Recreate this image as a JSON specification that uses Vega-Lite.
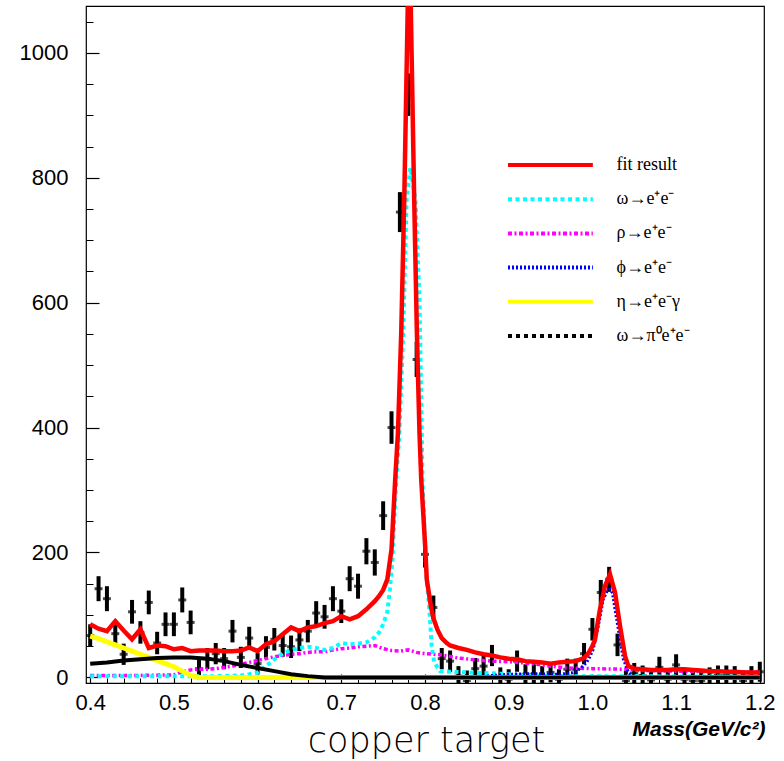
{
  "$schema": "https://vega.github.io/schema/vega-lite/v6.json",
  "width": 678,
  "height": 677,
  "autosize": {"type": "none"},
  "padding": {"left": 86, "top": 6, "right": 20, "bottom": 78},
  "background": "white",
  "config": {
    "view": {"stroke": "black", "strokeWidth": 1.2},
    "axis": {"grid": false, "domain": false, "labelFont": "Liberation Sans", "labelColor": "black", "tickColor": "black", "labelFlush": false, "labelOverlap": false, "labelBound": false}
  },
  "datasets": {
    "pts": [
      {"m":0.40,"n":67,"err":18},{"m":0.41,"n":142,"err":20},{"m":0.42,"n":126,"err":20},{"m":0.43,"n":70,"err":18},{"m":0.44,"n":37,"err":17},
      {"m":0.45,"n":105,"err":19},{"m":0.46,"n":72,"err":18},{"m":0.47,"n":120,"err":19},{"m":0.48,"n":55,"err":18},{"m":0.49,"n":85,"err":19},
      {"m":0.50,"n":85,"err":19},{"m":0.51,"n":124,"err":20},{"m":0.52,"n":88,"err":19},{"m":0.53,"n":14,"err":17},{"m":0.54,"n":30,"err":17},
      {"m":0.55,"n":38,"err":17},{"m":0.56,"n":30,"err":17},{"m":0.57,"n":74,"err":18},{"m":0.58,"n":32,"err":17},{"m":0.59,"n":63,"err":18},
      {"m":0.60,"n":22,"err":17},{"m":0.61,"n":48,"err":18},{"m":0.62,"n":61,"err":18},{"m":0.63,"n":51,"err":18},{"m":0.64,"n":49,"err":18},
      {"m":0.65,"n":60,"err":18},{"m":0.66,"n":74,"err":18},{"m":0.67,"n":103,"err":19},{"m":0.68,"n":97,"err":19},{"m":0.69,"n":126,"err":20},
      {"m":0.70,"n":106,"err":19},{"m":0.71,"n":158,"err":20},{"m":0.72,"n":146,"err":20},{"m":0.73,"n":202,"err":21},{"m":0.74,"n":184,"err":21},
      {"m":0.75,"n":259,"err":23},{"m":0.76,"n":400,"err":26},{"m":0.77,"n":745,"err":32},{"m":0.78,"n":933,"err":34},{"m":0.79,"n":509,"err":28},
      {"m":0.80,"n":197,"err":21},{"m":0.81,"n":112,"err":19},{"m":0.82,"n":30,"err":17},{"m":0.83,"n":26,"err":17},{"m":0.84,"n":2,"err":16},
      {"m":0.85,"n":-5,"err":16},{"m":0.86,"n":14,"err":17},{"m":0.87,"n":18,"err":17},{"m":0.88,"n":35,"err":17},{"m":0.89,"n":0,"err":16},
      {"m":0.90,"n":-3,"err":16},{"m":0.91,"n":26,"err":17},{"m":0.92,"n":5,"err":16},{"m":0.93,"n":5,"err":16},{"m":0.94,"n":2,"err":16},
      {"m":0.95,"n":8,"err":16},{"m":0.96,"n":-3,"err":16},{"m":0.97,"n":13,"err":17},{"m":0.98,"n":13,"err":17},{"m":0.99,"n":38,"err":17},
      {"m":1.00,"n":77,"err":18},{"m":1.01,"n":136,"err":20},{"m":1.02,"n":157,"err":20},{"m":1.03,"n":52,"err":18},{"m":1.04,"n":-5,"err":16},
      {"m":1.05,"n":7,"err":16},{"m":1.06,"n":3,"err":16},{"m":1.07,"n":-4,"err":16},{"m":1.08,"n":16,"err":17},{"m":1.09,"n":-3,"err":16},
      {"m":1.10,"n":20,"err":17},{"m":1.11,"n":-3,"err":16},{"m":1.12,"n":-5,"err":16},{"m":1.13,"n":-5,"err":16},{"m":1.14,"n":0,"err":16},
      {"m":1.15,"n":3,"err":16},{"m":1.16,"n":3,"err":16},{"m":1.17,"n":2,"err":16},{"m":1.18,"n":-5,"err":16},{"m":1.19,"n":2,"err":16},
      {"m":1.20,"n":9,"err":16}
    ],
    "curves": [
      {"series":"fit result","m":0.40,"v":85},{"series":"fit result","m":0.41,"v":78},{"series":"fit result","m":0.42,"v":74},{"series":"fit result","m":0.43,"v":90},
      {"series":"fit result","m":0.44,"v":75},{"series":"fit result","m":0.45,"v":61},{"series":"fit result","m":0.46,"v":77},{"series":"fit result","m":0.47,"v":47},
      {"series":"fit result","m":0.48,"v":51},{"series":"fit result","m":0.49,"v":50},{"series":"fit result","m":0.50,"v":45},{"series":"fit result","m":0.51,"v":47},
      {"series":"fit result","m":0.52,"v":42},{"series":"fit result","m":0.53,"v":43},{"series":"fit result","m":0.54,"v":43},{"series":"fit result","m":0.55,"v":43},
      {"series":"fit result","m":0.56,"v":42},{"series":"fit result","m":0.57,"v":42},{"series":"fit result","m":0.58,"v":43},{"series":"fit result","m":0.59,"v":48},
      {"series":"fit result","m":0.60,"v":42},{"series":"fit result","m":0.61,"v":53},{"series":"fit result","m":0.62,"v":58},{"series":"fit result","m":0.63,"v":69},
      {"series":"fit result","m":0.64,"v":80},{"series":"fit result","m":0.65,"v":74},{"series":"fit result","m":0.66,"v":80},{"series":"fit result","m":0.67,"v":82},
      {"series":"fit result","m":0.68,"v":87},{"series":"fit result","m":0.69,"v":90},{"series":"fit result","m":0.70,"v":98},{"series":"fit result","m":0.71,"v":93},
      {"series":"fit result","m":0.72,"v":98},{"series":"fit result","m":0.73,"v":109},{"series":"fit result","m":0.74,"v":122},{"series":"fit result","m":0.745,"v":130},
      {"series":"fit result","m":0.75,"v":140},{"series":"fit result","m":0.755,"v":157},{"series":"fit result","m":0.76,"v":205},{"series":"fit result","m":0.7644,"v":317},
      {"series":"fit result","m":0.7677,"v":392},{"series":"fit result","m":0.7716,"v":552},{"series":"fit result","m":0.7752,"v":765},{"series":"fit result","m":0.7794,"v":1074},
      {"series":"fit result","m":0.7812,"v":1200},{"series":"fit result","m":0.783,"v":1074},{"series":"fit result","m":0.7871,"v":765},{"series":"fit result","m":0.7903,"v":552},
      {"series":"fit result","m":0.7934,"v":392},{"series":"fit result","m":0.7955,"v":317},{"series":"fit result","m":0.8002,"v":210},{"series":"fit result","m":0.8021,"v":157},
      {"series":"fit result","m":0.807,"v":114},{"series":"fit result","m":0.81,"v":95},{"series":"fit result","m":0.815,"v":76},{"series":"fit result","m":0.82,"v":63},
      {"series":"fit result","m":0.826,"v":55},{"series":"fit result","m":0.83,"v":51},{"series":"fit result","m":0.84,"v":47},{"series":"fit result","m":0.85,"v":44},
      {"series":"fit result","m":0.86,"v":40},{"series":"fit result","m":0.87,"v":37},{"series":"fit result","m":0.88,"v":35},{"series":"fit result","m":0.89,"v":32},
      {"series":"fit result","m":0.90,"v":30},{"series":"fit result","m":0.91,"v":29},{"series":"fit result","m":0.92,"v":26},{"series":"fit result","m":0.93,"v":25},
      {"series":"fit result","m":0.94,"v":24},{"series":"fit result","m":0.95,"v":22},{"series":"fit result","m":0.96,"v":24},{"series":"fit result","m":0.97,"v":25},
      {"series":"fit result","m":0.98,"v":26},{"series":"fit result","m":0.99,"v":31},{"series":"fit result","m":0.995,"v":38},{"series":"fit result","m":1.0,"v":50},
      {"series":"fit result","m":1.003,"v":60},{"series":"fit result","m":1.009,"v":109},{"series":"fit result","m":1.015,"v":146},{"series":"fit result","m":1.021,"v":165},
      {"series":"fit result","m":1.027,"v":136},{"series":"fit result","m":1.033,"v":82},{"series":"fit result","m":1.039,"v":34},{"series":"fit result","m":1.043,"v":18},
      {"series":"fit result","m":1.05,"v":14},{"series":"fit result","m":1.06,"v":13},{"series":"fit result","m":1.07,"v":12},{"series":"fit result","m":1.08,"v":12},
      {"series":"fit result","m":1.09,"v":12},{"series":"fit result","m":1.10,"v":13},{"series":"fit result","m":1.11,"v":13},{"series":"fit result","m":1.12,"v":12},
      {"series":"fit result","m":1.13,"v":11},{"series":"fit result","m":1.14,"v":10},{"series":"fit result","m":1.15,"v":10},{"series":"fit result","m":1.16,"v":9},
      {"series":"fit result","m":1.17,"v":9},{"series":"fit result","m":1.18,"v":8},{"series":"fit result","m":1.19,"v":8},{"series":"fit result","m":1.20,"v":8},

      {"series":"ω→e⁺e⁻","m":0.40,"v":2},{"series":"ω→e⁺e⁻","m":0.45,"v":2},{"series":"ω→e⁺e⁻","m":0.50,"v":2},{"series":"ω→e⁺e⁻","m":0.55,"v":2},
      {"series":"ω→e⁺e⁻","m":0.58,"v":3},{"series":"ω→e⁺e⁻","m":0.59,"v":5},{"series":"ω→e⁺e⁻","m":0.60,"v":8},{"series":"ω→e⁺e⁻","m":0.61,"v":18},
      {"series":"ω→e⁺e⁻","m":0.62,"v":29},{"series":"ω→e⁺e⁻","m":0.63,"v":38},{"series":"ω→e⁺e⁻","m":0.64,"v":44},{"series":"ω→e⁺e⁻","m":0.65,"v":47},
      {"series":"ω→e⁺e⁻","m":0.66,"v":49},{"series":"ω→e⁺e⁻","m":0.67,"v":47},{"series":"ω→e⁺e⁻","m":0.68,"v":44},{"series":"ω→e⁺e⁻","m":0.69,"v":47},
      {"series":"ω→e⁺e⁻","m":0.70,"v":55},{"series":"ω→e⁺e⁻","m":0.71,"v":53},{"series":"ω→e⁺e⁻","m":0.72,"v":54},{"series":"ω→e⁺e⁻","m":0.73,"v":56},
      {"series":"ω→e⁺e⁻","m":0.74,"v":64},{"series":"ω→e⁺e⁻","m":0.745,"v":72},{"series":"ω→e⁺e⁻","m":0.75,"v":85},{"series":"ω→e⁺e⁻","m":0.755,"v":105},
      {"series":"ω→e⁺e⁻","m":0.758,"v":140},{"series":"ω→e⁺e⁻","m":0.761,"v":185},{"series":"ω→e⁺e⁻","m":0.765,"v":300},{"series":"ω→e⁺e⁻","m":0.7694,"v":392},
      {"series":"ω→e⁺e⁻","m":0.774,"v":552},{"series":"ω→e⁺e⁻","m":0.778,"v":765},{"series":"ω→e⁺e⁻","m":0.7825,"v":816},{"series":"ω→e⁺e⁻","m":0.7886,"v":765},
      {"series":"ω→e⁺e⁻","m":0.7934,"v":605},{"series":"ω→e⁺e⁻","m":0.7955,"v":445},{"series":"ω→e⁺e⁻","m":0.797,"v":317},{"series":"ω→e⁺e⁻","m":0.80,"v":215},
      {"series":"ω→e⁺e⁻","m":0.802,"v":157},{"series":"ω→e⁺e⁻","m":0.805,"v":113},{"series":"ω→e⁺e⁻","m":0.808,"v":50},{"series":"ω→e⁺e⁻","m":0.811,"v":24},
      {"series":"ω→e⁺e⁻","m":0.818,"v":10},{"series":"ω→e⁺e⁻","m":0.83,"v":9},{"series":"ω→e⁺e⁻","m":0.85,"v":8},{"series":"ω→e⁺e⁻","m":0.87,"v":7},
      {"series":"ω→e⁺e⁻","m":0.89,"v":6},{"series":"ω→e⁺e⁻","m":0.90,"v":5},{"series":"ω→e⁺e⁻","m":0.92,"v":3},{"series":"ω→e⁺e⁻","m":0.95,"v":2},
      {"series":"ω→e⁺e⁻","m":1.0,"v":2},{"series":"ω→e⁺e⁻","m":1.2,"v":1},

      {"series":"ρ→e⁺e⁻","m":0.40,"v":3},{"series":"ρ→e⁺e⁻","m":0.45,"v":3},{"series":"ρ→e⁺e⁻","m":0.50,"v":4},{"series":"ρ→e⁺e⁻","m":0.51,"v":9},
      {"series":"ρ→e⁺e⁻","m":0.52,"v":12},{"series":"ρ→e⁺e⁻","m":0.53,"v":13},{"series":"ρ→e⁺e⁻","m":0.54,"v":13},{"series":"ρ→e⁺e⁻","m":0.55,"v":14},
      {"series":"ρ→e⁺e⁻","m":0.56,"v":16},{"series":"ρ→e⁺e⁻","m":0.57,"v":18},{"series":"ρ→e⁺e⁻","m":0.58,"v":21},{"series":"ρ→e⁺e⁻","m":0.59,"v":24},
      {"series":"ρ→e⁺e⁻","m":0.60,"v":27},{"series":"ρ→e⁺e⁻","m":0.61,"v":30},{"series":"ρ→e⁺e⁻","m":0.62,"v":33},{"series":"ρ→e⁺e⁻","m":0.63,"v":35},
      {"series":"ρ→e⁺e⁻","m":0.64,"v":37},{"series":"ρ→e⁺e⁻","m":0.65,"v":38},{"series":"ρ→e⁺e⁻","m":0.66,"v":40},{"series":"ρ→e⁺e⁻","m":0.67,"v":41},
      {"series":"ρ→e⁺e⁻","m":0.68,"v":41},{"series":"ρ→e⁺e⁻","m":0.69,"v":44},{"series":"ρ→e⁺e⁻","m":0.70,"v":46},{"series":"ρ→e⁺e⁻","m":0.71,"v":47},
      {"series":"ρ→e⁺e⁻","m":0.72,"v":49},{"series":"ρ→e⁺e⁻","m":0.73,"v":50},{"series":"ρ→e⁺e⁻","m":0.74,"v":51},{"series":"ρ→e⁺e⁻","m":0.75,"v":46},
      {"series":"ρ→e⁺e⁻","m":0.76,"v":43},{"series":"ρ→e⁺e⁻","m":0.77,"v":42},{"series":"ρ→e⁺e⁻","m":0.78,"v":44},{"series":"ρ→e⁺e⁻","m":0.79,"v":40},
      {"series":"ρ→e⁺e⁻","m":0.80,"v":38},{"series":"ρ→e⁺e⁻","m":0.82,"v":36},{"series":"ρ→e⁺e⁻","m":0.84,"v":31},{"series":"ρ→e⁺e⁻","m":0.86,"v":28},
      {"series":"ρ→e⁺e⁻","m":0.88,"v":26},{"series":"ρ→e⁺e⁻","m":0.90,"v":25},{"series":"ρ→e⁺e⁻","m":0.92,"v":23},{"series":"ρ→e⁺e⁻","m":0.95,"v":18},
      {"series":"ρ→e⁺e⁻","m":0.97,"v":15},{"series":"ρ→e⁺e⁻","m":1.00,"v":14},{"series":"ρ→e⁺e⁻","m":1.04,"v":13},{"series":"ρ→e⁺e⁻","m":1.06,"v":11},
      {"series":"ρ→e⁺e⁻","m":1.10,"v":10},{"series":"ρ→e⁺e⁻","m":1.15,"v":9},{"series":"ρ→e⁺e⁻","m":1.20,"v":8},

      {"series":"ϕ→e⁺e⁻","m":0.86,"v":0},{"series":"ϕ→e⁺e⁻","m":0.88,"v":3},{"series":"ϕ→e⁺e⁻","m":0.90,"v":5},{"series":"ϕ→e⁺e⁻","m":0.93,"v":6},
      {"series":"ϕ→e⁺e⁻","m":0.96,"v":5},{"series":"ϕ→e⁺e⁻","m":0.975,"v":7},{"series":"ϕ→e⁺e⁻","m":0.981,"v":10},{"series":"ϕ→e⁺e⁻","m":0.987,"v":16},
      {"series":"ϕ→e⁺e⁻","m":0.993,"v":24},{"series":"ϕ→e⁺e⁻","m":0.997,"v":33},{"series":"ϕ→e⁺e⁻","m":1.001,"v":45},{"series":"ϕ→e⁺e⁻","m":1.007,"v":82},
      {"series":"ϕ→e⁺e⁻","m":1.013,"v":125},{"series":"ϕ→e⁺e⁻","m":1.0175,"v":138},{"series":"ϕ→e⁺e⁻","m":1.021,"v":141},{"series":"ϕ→e⁺e⁻","m":1.024,"v":135},
      {"series":"ϕ→e⁺e⁻","m":1.027,"v":109},{"series":"ϕ→e⁺e⁻","m":1.033,"v":61},{"series":"ϕ→e⁺e⁻","m":1.037,"v":29},{"series":"ϕ→e⁺e⁻","m":1.043,"v":8},
      {"series":"ϕ→e⁺e⁻","m":1.048,"v":2},{"series":"ϕ→e⁺e⁻","m":1.06,"v":0},

      {"series":"η→e⁺e⁻γ","m":0.40,"v":66},{"series":"η→e⁺e⁻γ","m":0.41,"v":62},{"series":"η→e⁺e⁻γ","m":0.42,"v":57},{"series":"η→e⁺e⁻γ","m":0.43,"v":52},
      {"series":"η→e⁺e⁻γ","m":0.44,"v":47},{"series":"η→e⁺e⁻γ","m":0.45,"v":42},{"series":"η→e⁺e⁻γ","m":0.46,"v":37},{"series":"η→e⁺e⁻γ","m":0.47,"v":32},
      {"series":"η→e⁺e⁻γ","m":0.48,"v":27},{"series":"η→e⁺e⁻γ","m":0.49,"v":22},{"series":"η→e⁺e⁻γ","m":0.50,"v":17},{"series":"η→e⁺e⁻γ","m":0.51,"v":10},
      {"series":"η→e⁺e⁻γ","m":0.52,"v":3},{"series":"η→e⁺e⁻γ","m":0.53,"v":0},{"series":"η→e⁺e⁻γ","m":1.20,"v":0},

      {"series":"ω→π⁰e⁺e⁻","m":0.40,"v":22},{"series":"ω→π⁰e⁺e⁻","m":0.42,"v":24},{"series":"ω→π⁰e⁺e⁻","m":0.44,"v":27},{"series":"ω→π⁰e⁺e⁻","m":0.46,"v":29},
      {"series":"ω→π⁰e⁺e⁻","m":0.48,"v":31},{"series":"ω→π⁰e⁺e⁻","m":0.50,"v":32},{"series":"ω→π⁰e⁺e⁻","m":0.52,"v":32},{"series":"ω→π⁰e⁺e⁻","m":0.54,"v":30},
      {"series":"ω→π⁰e⁺e⁻","m":0.56,"v":26},{"series":"ω→π⁰e⁺e⁻","m":0.58,"v":20},{"series":"ω→π⁰e⁺e⁻","m":0.60,"v":15},{"series":"ω→π⁰e⁺e⁻","m":0.62,"v":10},
      {"series":"ω→π⁰e⁺e⁻","m":0.64,"v":5},{"series":"ω→π⁰e⁺e⁻","m":0.66,"v":2},{"series":"ω→π⁰e⁺e⁻","m":0.68,"v":0},{"series":"ω→π⁰e⁺e⁻","m":1.20,"v":0}
    ]
  },
  "layer": [
    {
      "data": {"name": "pts"},
      "mark": {"type": "errorbar", "ticks": false, "thickness": 4, "color": "black", "clip": true},
      "encoding": {
        "x": {"field": "m", "type": "quantitative", "scale": {"domain": [0.395, 1.205], "nice": false, "zero": false},
          "axis": {"orient": "bottom", "values": [0.4,0.5,0.6,0.7,0.8,0.9,1.0,1.1,1.2], "tickSize": -9, "tickWidth": 1.2, "labelFontSize": 22, "labelPadding": 18,
            "title": "Mass(GeV/c²)", "titleFont": "Liberation Sans", "titleFontWeight": "bold", "titleFontStyle": "italic", "titleFontSize": 21, "titleColor": "black",
            "titleAlign": "right", "titleBaseline": "alphabetic", "titleX": 679, "titleY": 52}},
        "y": {"field": "n", "type": "quantitative", "scale": {"domain": [-9, 1075], "nice": false, "zero": false},
          "axis": {"orient": "left", "values": [0,200,400,600,800,1000], "format": "d", "tickSize": -13, "tickWidth": 1.2, "labelFontSize": 22, "labelPadding": 31, "title": null}},
        "yError": {"field": "err"}
      }
    },
    {
      "data": {"name": "pts"},
      "mark": {"type": "tick", "orient": "horizontal", "size": 8, "thickness": 3, "color": "black", "clip": true},
      "encoding": {
        "x": {"field": "m", "type": "quantitative",
          "axis": {"orient": "bottom", "values": [0.4,0.42,0.44,0.46,0.48,0.5,0.52,0.54,0.56,0.58,0.6,0.62,0.64,0.66,0.68,0.7,0.72,0.74,0.76,0.78,0.8,0.82,0.84,0.86,0.88,0.9,0.92,0.94,0.96,0.98,1.0,1.02,1.04,1.06,1.08,1.1,1.12,1.14,1.16,1.18,1.2],
            "tickSize": -5, "tickWidth": 1, "labels": false,
            "title": "copper target", "titleFont": "DejaVu Sans ExtraLight, DejaVu Sans", "titleFontWeight": 200, "titleFontSize": 35, "titleColor": "black",
            "titleAlign": "center", "titleBaseline": "alphabetic", "titleX": 340, "titleY": 68}},
        "y": {"field": "n", "type": "quantitative",
          "axis": {"orient": "left", "values": [50,100,150,250,300,350,450,500,550,650,700,750,850,900,950,1050], "tickSize": -7, "tickWidth": 1, "labels": false, "title": null}}
      }
    },
    {
      "data": {"name": "curves"},
      "transform": [{"filter": "datum.series === 'ρ→e⁺e⁻'"}],
      "mark": {"type": "line", "clip": true, "strokeWidth": 3.5, "strokeDash": [4, 2.5, 2, 2.5]},
      "encoding": {
        "x": {"field": "m", "type": "quantitative", "axis": null},
        "y": {"field": "v", "type": "quantitative", "axis": null},
        "color": {"field": "series", "type": "nominal",
          "scale": {"domain": ["fit result", "ω→e⁺e⁻", "ρ→e⁺e⁻", "ϕ→e⁺e⁻", "η→e⁺e⁻γ", "ω→π⁰e⁺e⁻"], "range": ["#ff0000", "#00ffff", "#ff00ff", "#0000ff", "#ffff00", "#000000"]},
          "legend": {"title": null, "orient": "none", "legendX": 419.6, "legendY": 146, "padding": 0,
            "symbolType": "M-1,0H7", "symbolSize": 450, "symbolStrokeWidth": 4,
            "labelFont": "Liberation Serif", "labelFontSize": 18, "labelColor": "black", "labelOffset": 85, "labelLimit": 300, "rowPadding": 12.2,
            "encode": {"symbols": {"update": {"strokeDash": {"signal": "[[1,0],[4,3.5],[4,2.5,2,2.5],[2,2],[1,0],[4,4]][datum.index]"}, "strokeWidth": {"value": 4}}}}}}
      }
    },
    {
      "data": {"name": "curves"},
      "transform": [{"filter": "datum.series === 'ω→e⁺e⁻'"}],
      "mark": {"type": "line", "clip": true, "strokeWidth": 4, "strokeDash": [4, 3.5]},
      "encoding": {
        "x": {"field": "m", "type": "quantitative", "axis": null},
        "y": {"field": "v", "type": "quantitative", "axis": null},
        "color": {"field": "series", "type": "nominal"}
      }
    },
    {
      "data": {"name": "curves"},
      "transform": [{"filter": "datum.series === 'ϕ→e⁺e⁻'"}],
      "mark": {"type": "line", "clip": true, "strokeWidth": 3, "strokeDash": [2, 2]},
      "encoding": {
        "x": {"field": "m", "type": "quantitative", "axis": null},
        "y": {"field": "v", "type": "quantitative", "axis": null},
        "color": {"field": "series", "type": "nominal"}
      }
    },
    {
      "data": {"name": "curves"},
      "transform": [{"filter": "datum.series === 'η→e⁺e⁻γ'"}],
      "mark": {"type": "line", "clip": true, "strokeWidth": 5},
      "encoding": {
        "x": {"field": "m", "type": "quantitative", "axis": null},
        "y": {"field": "v", "type": "quantitative", "axis": null},
        "color": {"field": "series", "type": "nominal"}
      }
    },
    {
      "data": {"name": "curves"},
      "transform": [{"filter": "datum.series === 'ω→π⁰e⁺e⁻'"}],
      "mark": {"type": "line", "clip": true, "strokeWidth": 4},
      "encoding": {
        "x": {"field": "m", "type": "quantitative", "axis": null},
        "y": {"field": "v", "type": "quantitative", "axis": null},
        "color": {"field": "series", "type": "nominal"}
      }
    },
    {
      "data": {"name": "curves"},
      "transform": [{"filter": "datum.series === 'fit result'"}],
      "mark": {"type": "line", "clip": true, "strokeWidth": 4.5},
      "encoding": {
        "x": {"field": "m", "type": "quantitative", "axis": null},
        "y": {"field": "v", "type": "quantitative", "axis": null},
        "color": {"field": "series", "type": "nominal"}
      }
    }
  ],
  "resolve": {"axis": {"x": "independent", "y": "independent"}}
}
